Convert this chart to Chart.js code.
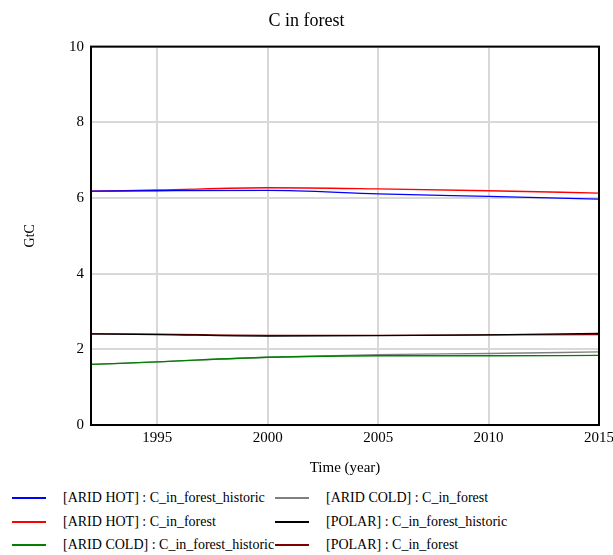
<!DOCTYPE html>
<html>
<head>
<meta charset="utf-8">
<script src="https://cdn.jsdelivr.net/npm/chart.js@4"></script>
<style>
	body { margin: 0; background: #fff; font-family: "Liberation Serif", "Times New Roman", serif; }
	#wrap { position: relative; width: 613px; height: 485px; }
	#legend { position: relative; width: 613px; height: 70px; font-size: 14px; color: #000; }
	.item { position: absolute; height: 20px; line-height: 20px; white-space: nowrap; }
	.item span.swatch { position: absolute; left: 0; top: 9px; width: 34px; height: 2px; }
	.item span.label { position: absolute; left: 51px; top: 0; }
</style>
</head>
<body>
<div id="wrap"><canvas id="chart" width="613" height="485"></canvas></div>
<div id="legend"></div>

<script>
	// values
	var years = [1992, 1995, 2000, 2005, 2010, 2015];
	var aridHotHistoric = [6.18, 6.19, 6.20, 6.11, 6.04, 5.97];
	var aridHot = [6.18, 6.21, 6.27, 6.24, 6.19, 6.13];
	var aridColdHistoric = [1.60, 1.67, 1.79, 1.83, 1.83, 1.84];
	var aridCold = [1.60, 1.67, 1.79, 1.86, 1.89, 1.93];
	var polarHistoric = [2.41, 2.39, 2.35, 2.36, 2.38, 2.42];
	var polar = [2.41, 2.40, 2.37, 2.37, 2.38, 2.39];

	var seriesNames = [
		'[ARID HOT] : C_in_forest_historic',
		'[ARID HOT] : C_in_forest',
		'[ARID COLD] : C_in_forest_historic',
		'[ARID COLD] : C_in_forest',
		'[POLAR] : C_in_forest_historic',
		'[POLAR] : C_in_forest'
	];
	var seriesValues = [aridHotHistoric, aridHot, aridColdHistoric, aridCold, polarHistoric, polar];
	var seriesColors = ['#0000ff', '#ff0000', '#008000', '#808080', '#000000', '#800000'];

	var serif = '"Liberation Serif", "Times New Roman", serif';

	function points(values) {
		var out = [];
		for (var i = 0; i < years.length; i++) {
			out.push({ x: years[i], y: values[i] });
		}
		return out;
	}

	// chart.js paints dataset 0 last, so the first series ends up on top
	var datasets = [];
	for (var i = 0; i < seriesNames.length; i++) {
		datasets.push({
			label: seriesNames[i],
			data: points(seriesValues[i]),
			borderColor: seriesColors[i],
			borderWidth: 1.3,
			pointRadius: 0,
			cubicInterpolationMode: 'monotone',
			fill: false
		});
	}

	// black frame round the plot area
	var frame = {
		id: 'frame',
		afterDatasetsDraw: function (chart) {
			var a = chart.chartArea, ctx = chart.ctx;
			ctx.save();
			ctx.strokeStyle = '#000';
			ctx.lineWidth = 2;
			ctx.strokeRect(a.left, a.top, a.right - a.left, a.bottom - a.top);
			ctx.restore();
		}
	};

	new Chart(document.getElementById('chart'), {
		type: 'line',
		data: { datasets: datasets },
		plugins: [frame],
		options: {
			responsive: false,
			animation: false,
			layout: { padding: 0 },
			plugins: {
				legend: { display: false },
				tooltip: { enabled: false },
				title: {
					display: true,
					text: 'C in forest',
					color: '#000',
					font: { family: serif, size: 18, weight: 'normal' },
					padding: { top: 10, bottom: 15 }
				}
			},
			scales: {
				x: {
					type: 'linear',
					min: 1992,
					max: 2015,
					afterBuildTicks: function (scale) {
						scale.ticks = scale.ticks.filter(function (t) { return t.value % 5 === 0; });
					},
					afterFit: function (scale) {
						scale.height = 60;
						scale.paddingRight = 14;
					},
					ticks: {
						stepSize: 5,
						color: '#000',
						font: { family: serif, size: 15 },
						maxRotation: 0,
						padding: 4,
						callback: function (v) { return String(v); }
					},
					grid: { color: '#d8d8d8', lineWidth: 2, drawTicks: false },
					border: { display: false },
					title: {
						display: true,
						text: 'Time (year)',
						color: '#000',
						font: { family: serif, size: 15 },
						padding: { top: 0, bottom: 8 }
					}
				},
				y: {
					min: 0,
					max: 10,
					afterFit: function (scale) { scale.width = 91; },
					ticks: {
						stepSize: 2,
						color: '#000',
						font: { family: serif, size: 15 },
						padding: 7
					},
					grid: { color: '#d8d8d8', lineWidth: 2, drawTicks: false },
					border: { display: false },
					title: {
						display: true,
						text: 'GtC',
						color: '#000',
						font: { family: serif, size: 14 },
						padding: { top: 22, bottom: 0 }
					}
				}
			}
		}
	});

	// legend: two columns of three
	var legend = document.getElementById('legend');
	for (var k = 0; k < seriesNames.length; k++) {
		var col = Math.floor(k / 3), row = k % 3;
		var item = document.createElement('div');
		item.className = 'item';
		item.style.left = (12 + col * 263) + 'px';
		item.style.top = (3 + row * 23.5) + 'px';
		item.innerHTML = '<span class="swatch" style="background:' + seriesColors[k] + '"></span>' +
			'<span class="label">' + seriesNames[k] + '</span>';
		legend.appendChild(item);
	}
</script>
</body>
</html>
